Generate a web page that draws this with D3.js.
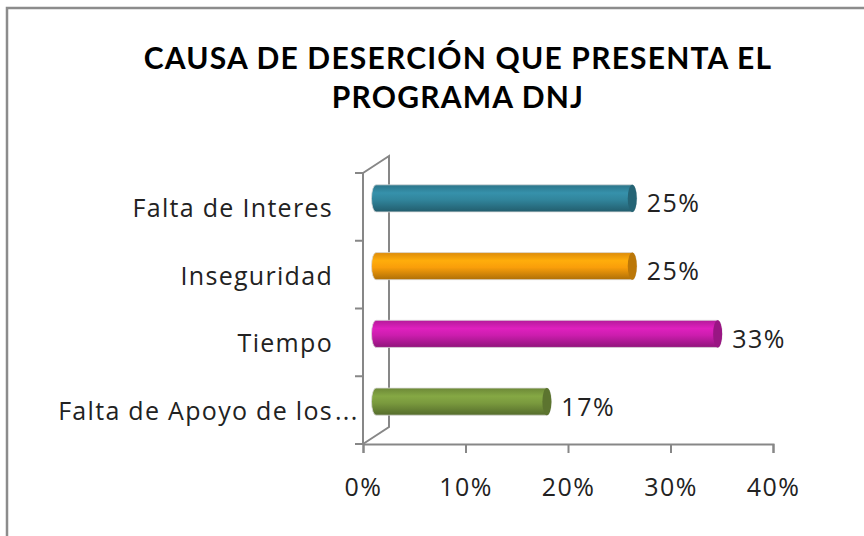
<!DOCTYPE html>
<html>
<head>
<meta charset="utf-8">
<script src="https://cdn.jsdelivr.net/npm/d3@7"></script>
<style>
  body { margin: 0; background: #fff; }
  svg { display: block; }
</style>
</head>
<body>
<div class="vis"></div>
<script>
// chart data
const categories = ["Falta de Interes", "Inseguridad", "Tiempo", "Falta de Apoyo de los..."];
const values = [0.25, 0.25, 0.3333, 0.1667];
const barColors = ["#31859C", "#F99E0A", "#CC1DAE", "#7A9A3E"];
const xTicks = [0, 0.1, 0.2, 0.3, 0.4];
const titleLines = ["CAUSA DE DESERCIÓN QUE PRESENTA EL", "PROGRAMA DNJ"];

const W = 864, H = 536;
const font = "'Open Sans', sans-serif";
const axisColor = "#878787";
const textColor = "#222";

const svg = d3.select(".vis").append("svg").attr("width", W).attr("height", H);

// chart frame (only left and top show inside the crop)
svg.append("path")
    .attr("d", `M7,${H + 5} L7,8 L${W + 5},8`)
    .attr("fill", "none").attr("stroke", "#8c8c8c").attr("stroke-width", 2.5);

// title
svg.append("g").selectAll("text")
    .data(titleLines)
    .join("text")
    .attr("x", 458)
    .attr("y", (d, i) => 69 + i * 39)
    .attr("text-anchor", "middle")
    .style("font-family", "Lato, sans-serif")
    .style("font-weight", "bold")
    .style("font-size", "30px")
    .style("letter-spacing", "1.2px")
    .style("fill", "#000")
    .text(d => d);

// scales
const x = d3.scaleLinear().domain([0, 0.4]).range([363, 773]);
const y = d3.scaleBand().domain(categories).range([173, 444]);
const depth = { dx: 26, dy: -17 };

// 3d walls
const g = svg.append("g");
g.append("path")
    .attr("d", `M${x(0)},${y.range()[0]} L${x(0) + depth.dx},${y.range()[0] + depth.dy}
                L${x(0) + depth.dx},${y.range()[1] + depth.dy} L${x(0)},${y.range()[1]}`)
    .attr("fill", "none").attr("stroke", axisColor).attr("stroke-width", 2);

// x axis
const xAxis = g.append("g")
    .attr("transform", `translate(0, ${y.range()[1]})`)
    .call(d3.axisBottom(x).tickValues(xTicks).tickFormat(d3.format(".0%")).tickSize(9).tickPadding(25));
xAxis.select(".domain").attr("stroke", axisColor).attr("stroke-width", 2);
xAxis.selectAll(".tick line").attr("stroke", axisColor).attr("stroke-width", 2);
xAxis.selectAll(".tick text")
    .style("font-family", font).style("font-size", "25px").style("letter-spacing", "1.5px")
    .style("fill", textColor);

// y axis (front edge) with ticks on band borders
const yEdges = categories.map(c => y(c)).concat([y.range()[1]]);
g.append("line")
    .attr("x1", x(0)).attr("x2", x(0))
    .attr("y1", y.range()[0]).attr("y2", y.range()[1])
    .attr("stroke", axisColor).attr("stroke-width", 2);
g.selectAll(".ytick").data(yEdges).join("line")
    .attr("class", "ytick")
    .attr("x1", x(0) - 8).attr("x2", x(0))
    .attr("y1", d => d).attr("y2", d => d)
    .attr("stroke", axisColor).attr("stroke-width", 2);

// category labels
const labels = g.selectAll(".cat").data(categories).join("g").attr("class", "cat")
    .attr("transform", d => `translate(333, ${y(d) + y.bandwidth() / 2 + 10})`)
    .style("font-family", font).style("font-size", "25px").style("letter-spacing", "1.3px")
    .style("fill", textColor);
labels.append("text")
    .attr("text-anchor", "end")
    .text(d => d.replace("...", ""));
labels.filter(d => d.endsWith("..."))
    .append("text")
    .attr("x", 2)
    .text("...");

// cylinder gradients
const defs = svg.append("defs");
barColors.forEach((c, i) => {
    const base = d3.color(c);
    const grad = defs.append("linearGradient").attr("id", `cyl${i}`)
        .attr("x1", 0).attr("y1", 0).attr("x2", 0).attr("y2", 1);
    grad.append("stop").attr("offset", "0%").attr("stop-color", base.darker(0.35));
    grad.append("stop").attr("offset", "30%").attr("stop-color", base.brighter(0.25));
    grad.append("stop").attr("offset", "55%").attr("stop-color", base);
    grad.append("stop").attr("offset", "100%").attr("stop-color", base.darker(1.0));
});

// bars as horizontal cylinders
const barH = y.bandwidth() * 0.4;
const rx = 4.5;
const bars = g.selectAll(".bar").data(categories).join("g").attr("class", "bar");
const cy = d => y(d) + y.bandwidth() / 2 + depth.dy / 2;
const x0 = x(0) + depth.dx / 2;
bars.append("path")
    .attr("d", (d, i) => {
        const x1 = x(values[i]) + depth.dx / 2;
        const t = cy(d) - barH / 2, b = cy(d) + barH / 2;
        return `M${x0},${t} L${x1},${t} A${rx},${barH / 2} 0 0 1 ${x1},${b} L${x0},${b} A${rx},${barH / 2} 0 0 1 ${x0},${t} Z`;
    })
    .attr("fill", (d, i) => `url(#cyl${i})`)
    .attr("stroke", "#d9d9d9").attr("stroke-width", 0.8);
bars.append("ellipse")
    .attr("cx", (d, i) => x(values[i]) + depth.dx / 2)
    .attr("cy", d => cy(d))
    .attr("rx", rx).attr("ry", barH / 2)
    .attr("fill", (d, i) => d3.color(barColors[i]).darker(0.8));

// value labels
bars.append("text")
    .attr("x", (d, i) => x(values[i]) + depth.dx / 2 + rx + 10)
    .attr("y", d => cy(d) + 14)
    .style("font-family", font).style("font-size", "25px").style("letter-spacing", "1.5px")
    .style("fill", textColor)
    .text((d, i) => d3.format(".0%")(values[i]));
</script>
</body>
</html>
